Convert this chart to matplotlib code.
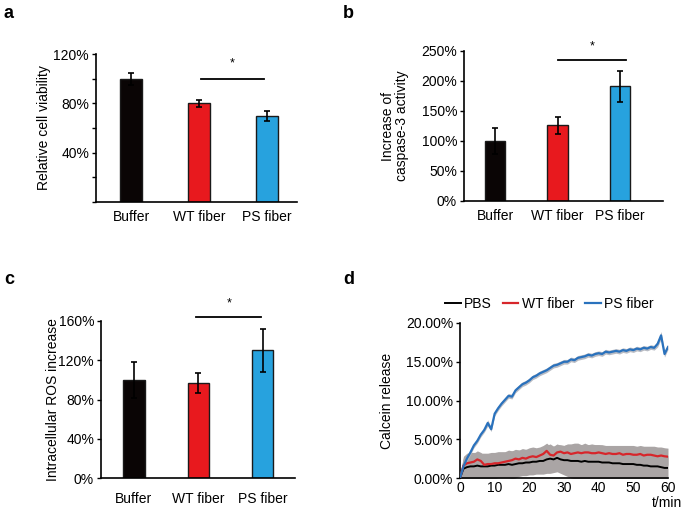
import matplotlib
matplotlib.use("Agg")
import matplotlib.pyplot as plt
import numpy as np

plt.rcParams['font.family'] = ['Liberation Sans', 'DejaVu Sans']
plt.rcParams['font.size'] = 10

# ---------------- data ----------------
categories = ["Buffer", "WT fiber", "PS fiber"]
bar_colors = ["#0a0505", "#e8191e", "#27a2de"]

viability = [100, 80, 70]
viability_err = [5, 3, 4]
viability_ticks = [0, 20, 40, 60, 80, 100, 120]
viability_labels = ["", "", "40%", "", "80%", "", "120%"]

caspase = [100, 126, 191]
caspase_err = [21, 14, 26]
caspase_ticks = [0, 50, 100, 150, 200, 250]
caspase_labels = ["0%", "50%", "100%", "150%", "200%", "250%"]

ros = [100, 97, 130]
ros_err = [18, 10, 22]
ros_ticks = [0, 40, 80, 120, 160]
ros_labels = ["0%", "40%", "80%", "120%", "160%"]

time_min = list(range(0, 61))
ps_release = [0.0, 1.5, 2.5, 3.3, 4.2, 4.8, 5.6, 6.2, 7.1, 6.3,
              8.3, 9.0, 9.6, 10.1, 10.6, 10.5, 11.3, 11.7, 12.1, 12.3,
              12.6, 13.0, 13.2, 13.5, 13.7, 13.9, 14.2, 14.5, 14.6, 14.8,
              15.0, 15.0, 15.3, 15.2, 15.5, 15.6, 15.7, 15.9, 15.8, 16.0,
              16.1, 16.0, 16.3, 16.2, 16.3, 16.4, 16.3, 16.5, 16.4, 16.6,
              16.5, 16.7, 16.6, 16.8, 16.7, 16.9, 16.8, 17.3, 18.4, 16.0,
              16.9]
ps_err = [0.2, 0.3, 0.3, 0.3, 0.3, 0.3, 0.3, 0.3, 0.4, 0.3,
          0.3, 0.3, 0.3, 0.3, 0.3, 0.3, 0.3, 0.3, 0.3, 0.3,
          0.3, 0.3, 0.3, 0.3, 0.3, 0.3, 0.3, 0.3, 0.3, 0.3,
          0.3, 0.3, 0.3, 0.3, 0.3, 0.3, 0.3, 0.3, 0.3, 0.3,
          0.3, 0.3, 0.3, 0.3, 0.3, 0.3, 0.3, 0.3, 0.3, 0.3,
          0.3, 0.3, 0.3, 0.3, 0.3, 0.3, 0.3, 0.4, 0.5, 0.4,
          0.3]
wt_release = [0.0, 1.6, 1.9, 2.0, 2.1, 2.4, 2.2, 1.7, 1.8, 1.8,
              1.9, 1.9, 2.0, 2.1, 2.2, 2.3, 2.5, 2.4, 2.6, 2.5,
              2.7, 2.8, 2.7, 2.9, 3.1, 3.5, 3.0, 2.9, 3.3, 3.4,
              3.2, 3.3, 3.1, 3.2, 3.3, 3.2, 3.3, 3.3, 3.2, 3.2,
              3.3, 3.2, 3.1, 3.2, 3.1, 3.1, 3.2, 3.0, 3.1, 3.1,
              3.0, 3.0, 3.1, 2.9, 3.0, 3.0, 2.9, 2.8, 2.9, 2.8,
              2.75]
wt_err = [0.5, 1.0, 1.1, 1.1, 1.1, 1.1, 1.1, 1.2, 1.2, 1.2,
          1.2, 1.2, 1.2, 1.2, 1.2, 1.2, 1.2, 1.2, 1.2, 1.2,
          1.2, 1.2, 1.2, 1.1, 1.1, 1.0, 1.1, 1.2, 1.0, 0.9,
          1.0, 1.0, 1.1, 1.0, 1.0, 1.1, 1.0, 1.0, 1.1, 1.1,
          1.0, 1.1, 1.1, 1.0, 1.1, 1.1, 1.0, 1.2, 1.1, 1.1,
          1.2, 1.1, 1.1, 1.2, 1.1, 1.1, 1.2, 1.2, 1.1, 1.1,
          1.1]
pbs_release = [0.0, 1.2, 1.4, 1.5, 1.5, 1.6, 1.5, 1.5, 1.5, 1.6,
               1.6, 1.7, 1.7, 1.7, 1.8, 1.7, 1.8, 1.9, 1.9, 2.0,
               2.0, 2.1, 2.1, 2.2, 2.2, 2.4, 2.5, 2.4, 2.6, 2.4,
               2.3, 2.3, 2.2, 2.2, 2.2, 2.1, 2.2, 2.1, 2.1, 2.1,
               2.1, 2.0, 2.0, 2.0, 1.9, 1.9, 1.9, 1.8, 1.8, 1.8,
               1.8, 1.7, 1.7, 1.6, 1.6, 1.5, 1.5, 1.5, 1.4, 1.3,
               1.3]
pbs_err = [0.5, 1.6, 1.8, 1.8, 1.8, 1.7, 1.7, 1.7, 1.7, 1.7,
           1.7, 1.7, 1.7, 1.7, 1.8, 1.8, 1.8, 1.7, 1.6, 1.7,
           1.6, 1.7, 1.6, 1.7, 1.7, 1.8, 1.9, 1.7, 1.8, 1.8,
           1.9, 2.1, 2.2, 2.3, 2.3, 2.2, 2.3, 2.2, 2.3, 2.2,
           2.2, 2.2, 2.1, 2.2, 2.1, 2.1, 2.1, 2.0, 2.0, 2.0,
           2.0, 1.9, 1.9, 1.8, 1.8, 1.8, 1.7, 1.7, 1.7, 1.6,
           1.6]
release_ticks = [0, 5, 10, 15, 20]
release_labels = ["0.00%", "5.00%", "10.00%", "15.00%", "20.00%"]
time_ticks = [0, 10, 20, 30, 40, 50, 60]

W, H = 685, 512
fig = plt.figure(figsize=(W / 100, H / 100), dpi=100)


def ax_px(left, top, right, bottom):
    return fig.add_axes([left / W, 1 - bottom / H, (right - left) / W, (bottom - top) / H])


def style_bar_axes(ax, ticks, labels, ymax):
    for s in ["top", "right"]:
        ax.spines[s].set_visible(False)
    ax.spines["left"].set_linewidth(1.2)
    ax.spines["bottom"].set_linewidth(1.2)
    ax.set_ylim(0, ymax)
    ax.set_yticks(ticks)
    ax.set_yticklabels(labels, fontsize=10)
    ax.tick_params(axis="y", direction="out", length=3, width=1, pad=2)
    ax.tick_params(axis="x", length=0, pad=6, labelsize=10)


def draw_bars(ax, vals, errs, width):
    x = np.arange(len(categories))
    ax.bar(x, vals, width=width, color=bar_colors, edgecolor="#1a1a1a", linewidth=1.0, zorder=2)
    ax.errorbar(x, vals, yerr=errs, fmt="none", ecolor="black", elinewidth=1.2,
                capsize=2, capthick=1.2, zorder=3)
    ax.set_xticks(x)
    ax.set_xticklabels(categories)


def ylabel_at(ax, text, x_px, left_px, width_px, **kw):
    ax.set_ylabel(text, fontsize=10, va="center", **kw)
    ax.yaxis.set_label_coords((x_px - left_px) / width_px, 0.5)


def sig(ax, x0, x1, y, ystar):
    ax.plot([x0, x1], [y, y], color="black", lw=1.3, clip_on=False)
    ax.text((x0 + x1) / 2, ystar, "*", ha="center", va="center", fontsize=9, clip_on=False)


# panel a
ax_a = ax_px(96, 54, 297, 202)
draw_bars(ax_a, viability, viability_err, 0.32)
style_bar_axes(ax_a, viability_ticks, viability_labels, 120)
ax_a.set_xlim(-0.515, 2.44)
ylabel_at(ax_a, "Relative cell viability", 44, 96, 201)
sig(ax_a, 1.03, 1.95, 100, 112)

# panel b
ax_b = ax_px(464, 51, 663, 201)
draw_bars(ax_b, caspase, caspase_err, 0.33)
style_bar_axes(ax_b, caspase_ticks, caspase_labels, 250)
ax_b.set_xlim(-0.5, 2.69)
ylabel_at(ax_b, "Increase of\ncaspase-3 activity", 395, 464, 199, linespacing=1.05)
sig(ax_b, 1.0, 2.1, 235, 257)

# panel c
ax_c = ax_px(101, 321, 295, 478)
draw_bars(ax_c, ros, ros_err, 0.33)
style_bar_axes(ax_c, ros_ticks, ros_labels, 160)
ax_c.set_xlim(-0.51, 2.5)
ax_c.tick_params(axis="x", pad=10)
ylabel_at(ax_c, "Intracellular ROS increase", 53, 101, 194)
sig(ax_c, 0.97, 1.98, 164, 178)

# panel d
ax_d = ax_px(460, 323, 668, 478)
t = np.array(time_min)
ps = np.array(ps_release); pse = np.array(ps_err)
wt = np.array(wt_release); wte = np.array(wt_err)
pb = np.array(pbs_release); pbe = np.array(pbs_err)
gray = "#aaa5a5"
ax_d.fill_between(t, pb - pbe, pb + pbe, color=gray, lw=0, zorder=1)
ax_d.fill_between(t, wt - wte, wt + wte, color=gray, lw=0, zorder=1)
ax_d.fill_between(t, ps - pse, ps + pse, color="#b9bcc4", lw=0, zorder=1)
ax_d.plot(t, pb, color="black", lw=1.4, label="PBS", zorder=3)
ax_d.plot(t, wt, color="#d7262b", lw=1.6, label="WT fiber", zorder=3)
ax_d.plot(t, ps, color="#2a72bd", lw=1.6, label="PS fiber", zorder=4)
ax_d.set_xlim(0, 60)
ax_d.set_ylim(0, 20)
for s in ["top", "right"]:
    ax_d.spines[s].set_visible(False)
ax_d.spines["left"].set_linewidth(1.2)
ax_d.spines["bottom"].set_linewidth(1.2)
ax_d.set_yticks(release_ticks)
ax_d.set_yticklabels(release_labels, fontsize=10)
ax_d.set_xticks(time_ticks)
ax_d.set_xticklabels([str(v) for v in time_ticks], fontsize=10)
ax_d.tick_params(axis="y", direction="out", length=3, width=1, pad=2)
ax_d.tick_params(axis="x", direction="out", length=0, pad=2)
ylabel_at(ax_d, "Calcein release", 387, 460, 208)
ax_d.text((682 - 460) / 208, (478 - 503) / 155, "t/min", transform=ax_d.transAxes,
          ha="right", va="center", fontsize=10)
leg = ax_d.legend(loc="lower center", bbox_to_anchor=(0.43, 1.04), ncol=3, frameon=False,
                  handlelength=1.1, handletextpad=0.25, columnspacing=0.8, fontsize=10,
                  borderaxespad=0)

# panel letters
for lx, ly, letter in [(4, 18, "a"), (343, 18, "b"), (4, 284, "c"), (343, 284, "d")]:
    fig.text(lx / W, 1 - ly / H, letter, fontsize=13, fontweight="bold", ha="left", va="baseline")

fig.savefig("out.png", dpi=100)
